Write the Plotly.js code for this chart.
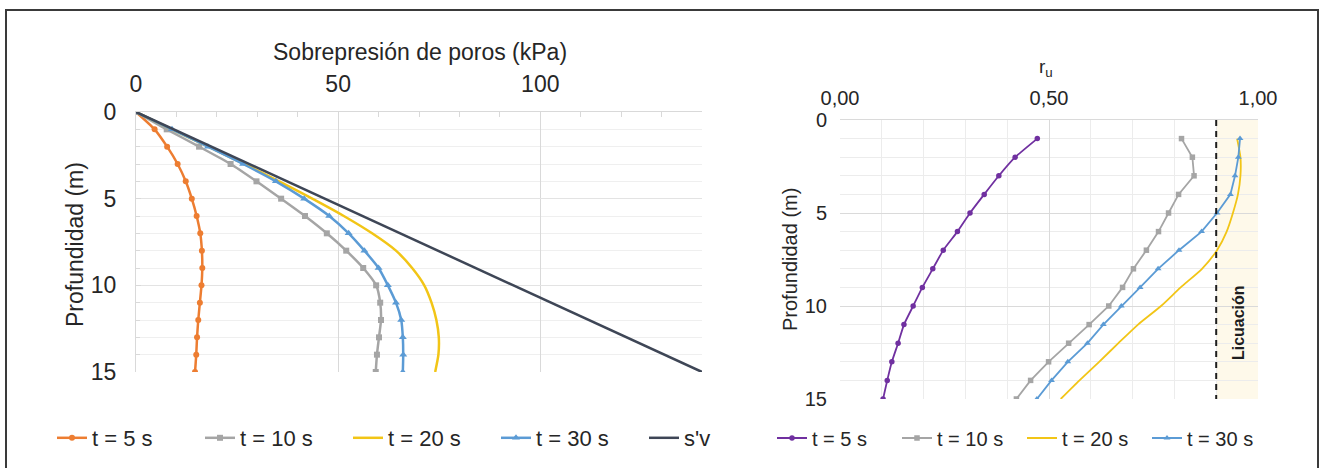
<!DOCTYPE html>
<html>
<head>
<meta charset="utf-8">
<script src="https://cdn.plot.ly/plotly-3.0.1.min.js"></script>
<style>
  html, body { margin: 0; padding: 0; background: #ffffff; }
  #wrap { position: relative; width: 1325px; height: 468px; overflow: hidden; }
  #frame { position: absolute; left: 5px; top: 9px; width: 1314px; height: 480px;
           border: 2px solid #3a3a3a; box-sizing: border-box; pointer-events: none; z-index: 2; }
  #chart { position: absolute; left: 0; top: 0; width: 1325px; height: 468px; }
</style>
</head>
<body>
<div id="wrap">
  <div id="chart"></div>
  <div id="frame"></div>
</div>
<script>
// Depths (m)
const depthLeft = [0, 1, 2, 3, 4, 5, 6, 7, 8, 9, 10, 11, 12, 13, 14, 15];
const depthRight = [1, 2, 3, 4, 5, 6, 7, 8, 9, 10, 11, 12, 13, 14, 15];

// Excess pore pressure (kPa) per instant
const exc5s  = [0, 4.6, 7.7, 10.3, 12.3, 13.8, 15.0, 15.9, 16.3, 16.4, 16.2, 15.8, 15.4, 15.1, 14.9, 14.6];
const exc10s = [0, 7.6, 15.6, 23.4, 29.8, 35.9, 41.8, 47.2, 52.0, 56.2, 59.4, 60.4, 60.6, 60.1, 59.6, 59.3];
const exc20s = [0, 8.9, 17.9, 26.8, 35.4, 43.6, 51.4, 58.4, 64.3, 68.3, 71.3, 73.1, 74.3, 74.9, 74.8, 74.0];
const exc30s = [0, 8.9, 17.8, 26.5, 34.6, 41.6, 47.8, 52.6, 56.5, 60.0, 62.3, 64.3, 65.6, 66.0, 66.1, 66.0];

// Effective vertical stress line
const svDepth = [0, 15];
const svValue = [0, 140];

// Pore pressure ratio r_u per instant
const ru5s  = [0.472, 0.419, 0.380, 0.345, 0.311, 0.281, 0.247, 0.222, 0.197, 0.175, 0.153, 0.139, 0.124, 0.113, 0.103];
const ru10s = [0.817, 0.843, 0.847, 0.810, 0.786, 0.762, 0.733, 0.702, 0.676, 0.643, 0.596, 0.547, 0.499, 0.456, 0.422];
const ru20s = [0.950, 0.958, 0.958, 0.952, 0.940, 0.925, 0.902, 0.866, 0.815, 0.768, 0.713, 0.666, 0.620, 0.573, 0.528];
const ru30s = [0.957, 0.953, 0.945, 0.934, 0.902, 0.865, 0.811, 0.761, 0.718, 0.673, 0.630, 0.592, 0.545, 0.506, 0.471];

// Liquefaction threshold
const ruLimit = 0.9;
const ruMax = 1.0;

const seriesNames = ['t = 5 s', 't = 10 s', 't = 20 s', 't = 30 s'];
const svName = "s'v";
const leftXTitle = 'Sobrepresión de poros (kPa)';
const depthTitle = 'Profundidad (m)';
const ruTitle = 'r<sub>u</sub>';
const liqLabel = '<b>Licuación</b>';

const FONT = 'Liberation Sans, Arial, sans-serif';
const TXT = '#262626';

const W = 1325, H = 468;
const px = v => v / W;
const py = v => 1 - v / H;

const traces = [
  { x: exc5s, y: depthLeft, name: seriesNames[0], mode: 'lines+markers', xaxis: 'x', yaxis: 'y',
    line: { color: '#ED7D31', width: 2.5, shape: 'spline', smoothing: 0.6 },
    marker: { symbol: 'circle', size: 6, color: '#ED7D31' } },
  { x: exc10s, y: depthLeft, name: seriesNames[1], mode: 'lines+markers', xaxis: 'x', yaxis: 'y',
    line: { color: '#A5A5A5', width: 2.5, shape: 'spline', smoothing: 0.6 },
    marker: { symbol: 'square', size: 6, color: '#A5A5A5' } },
  { x: exc20s, y: depthLeft, name: seriesNames[2], mode: 'lines', xaxis: 'x', yaxis: 'y',
    line: { color: '#F2C516', width: 2.5, shape: 'spline', smoothing: 0.6 } },
  { x: exc30s, y: depthLeft, name: seriesNames[3], mode: 'lines+markers', xaxis: 'x', yaxis: 'y',
    line: { color: '#5B9BD5', width: 2.5, shape: 'spline', smoothing: 0.6 },
    marker: { symbol: 'triangle-up', size: 7, color: '#5B9BD5' } },
  { x: svValue, y: svDepth, name: svName, mode: 'lines', xaxis: 'x', yaxis: 'y',
    line: { color: '#3E4656', width: 2.5 } },

  { x: ru5s, y: depthRight, name: seriesNames[0], mode: 'lines+markers', xaxis: 'x2', yaxis: 'y2', legend: 'legend2',
    line: { color: '#7030A0', width: 1.8, shape: 'spline', smoothing: 0.4 },
    marker: { symbol: 'circle', size: 5.5, color: '#7030A0' } },
  { x: ru10s, y: depthRight, name: seriesNames[1], mode: 'lines+markers', xaxis: 'x2', yaxis: 'y2', legend: 'legend2',
    line: { color: '#A5A5A5', width: 1.8 },
    marker: { symbol: 'square', size: 5.5, color: '#A5A5A5' } },
  { x: ru20s, y: depthRight, name: seriesNames[2], mode: 'lines', xaxis: 'x2', yaxis: 'y2', legend: 'legend2',
    line: { color: '#F2C516', width: 1.8, shape: 'spline', smoothing: 0.6 } },
  { x: ru30s, y: depthRight, name: seriesNames[3], mode: 'lines+markers', xaxis: 'x2', yaxis: 'y2', legend: 'legend2',
    line: { color: '#5B9BD5', width: 1.8 },
    marker: { symbol: 'triangle-up', size: 6, color: '#5B9BD5' } }
];

const layout = {
  width: W, height: H,
  margin: { l: 0, r: 0, t: 0, b: 0 },
  paper_bgcolor: '#ffffff',
  plot_bgcolor: '#ffffff',
  separators: ',.',
  font: { family: FONT, color: TXT },
  showlegend: true,

  xaxis: {
    domain: [px(136), px(702)], anchor: 'y', side: 'top',
    range: [0, 140], dtick: 50, tick0: 0,
    showgrid: true, gridcolor: '#D9D9D9', gridwidth: 1,
    showline: true, linecolor: '#D9D9D9', linewidth: 1,
    ticks: 'inside', ticklen: 5, tickcolor: '#D9D9D9',
    minor: { dtick: 10, ticks: 'inside', ticklen: 5, tickcolor: '#D9D9D9', showgrid: false },
    tickfont: { size: 23, color: TXT }, ticklabelstandoff: 10,
    zeroline: false, fixedrange: true
  },
  yaxis: {
    domain: [py(372), py(112)], anchor: 'x',
    range: [15, 0], dtick: 5, tick0: 0,
    showgrid: true, gridcolor: '#E3E3E3', gridwidth: 1,
    showline: true, linecolor: '#D9D9D9', linewidth: 1,
    ticks: 'inside', ticklen: 5, tickcolor: '#D9D9D9',
    minor: { dtick: 1, showgrid: true, gridcolor: '#EFEFEF', ticks: 'inside', ticklen: 4, tickcolor: '#D9D9D9' },
    tickfont: { size: 23, color: TXT }, ticklabelstandoff: 14,
    zeroline: false, fixedrange: true
  },

  xaxis2: {
    domain: [px(840), px(1258)], anchor: 'y2', side: 'top',
    range: [0, 1], dtick: 0.5, tick0: 0, tickformat: '.2f',
    showgrid: true, gridcolor: '#DADADA', gridwidth: 1,
    showline: true, linecolor: '#DADADA', linewidth: 1,
    ticks: '',
    minor: { dtick: 0.1, showgrid: true, gridcolor: '#ECECEC' },
    tickfont: { size: 20, color: TXT }, ticklabelstandoff: 6,
    zeroline: false, fixedrange: true
  },
  yaxis2: {
    domain: [py(399), py(120)], anchor: 'x2',
    range: [15, 0], dtick: 5, tick0: 0,
    showgrid: true, gridcolor: '#DADADA', gridwidth: 1,
    showline: false,
    ticks: '',
    minor: { dtick: 1, showgrid: true, gridcolor: '#ECECEC' },
    tickfont: { size: 20, color: TXT }, ticklabelstandoff: 12,
    zeroline: false, fixedrange: true
  },

  legend: {
    orientation: 'h', x: px(52), y: py(438), xanchor: 'left', yanchor: 'middle',
    font: { size: 22, color: TXT }, entrywidth: 103, entrywidthmode: 'pixels',
    itemwidth: 30, bgcolor: 'rgba(0,0,0,0)', traceorder: 'normal', tracegroupgap: 0
  },
  legend2: {
    orientation: 'h', x: px(772), y: py(438), xanchor: 'left', yanchor: 'middle',
    font: { size: 20, color: TXT }, entrywidth: 80, entrywidthmode: 'pixels',
    itemwidth: 30, bgcolor: 'rgba(0,0,0,0)', traceorder: 'normal', tracegroupgap: 0
  },

  shapes: [
    { type: 'rect', xref: 'x2', yref: 'y2', x0: ruLimit, x1: ruMax, y0: 0, y1: 15,
      fillcolor: '#FEF9EA', line: { width: 0 }, layer: 'below' },
    { type: 'line', xref: 'x2', yref: 'y2', x0: ruLimit, x1: ruLimit, y0: 0, y1: 15,
      line: { color: '#1E1E1E', width: 2, dash: '6px,5px' } }
  ],

  annotations: [
    { text: leftXTitle, xref: 'paper', yref: 'paper', x: px(420), y: py(52),
      xanchor: 'center', yanchor: 'middle', showarrow: false, font: { size: 23, color: TXT } },
    { text: depthTitle, xref: 'paper', yref: 'paper', x: px(75), y: py(245), textangle: -90,
      xanchor: 'center', yanchor: 'middle', showarrow: false, font: { size: 23, color: TXT } },
    { text: ruTitle, xref: 'paper', yref: 'paper', x: px(1046), y: py(68),
      xanchor: 'center', yanchor: 'middle', showarrow: false, font: { size: 19, color: TXT } },
    { text: depthTitle, xref: 'paper', yref: 'paper', x: px(790), y: py(260), textangle: -90,
      xanchor: 'center', yanchor: 'middle', showarrow: false, font: { size: 20, color: TXT } },
    { text: liqLabel, xref: 'x2', yref: 'y2', x: 0.953, y: 10.9, textangle: -90,
      xanchor: 'center', yanchor: 'middle', showarrow: false, font: { size: 16, color: '#1E1E1E' } }
  ]
};

Plotly.newPlot('chart', traces, layout, { displayModeBar: false, staticPlot: true });
</script>
</body>
</html>
